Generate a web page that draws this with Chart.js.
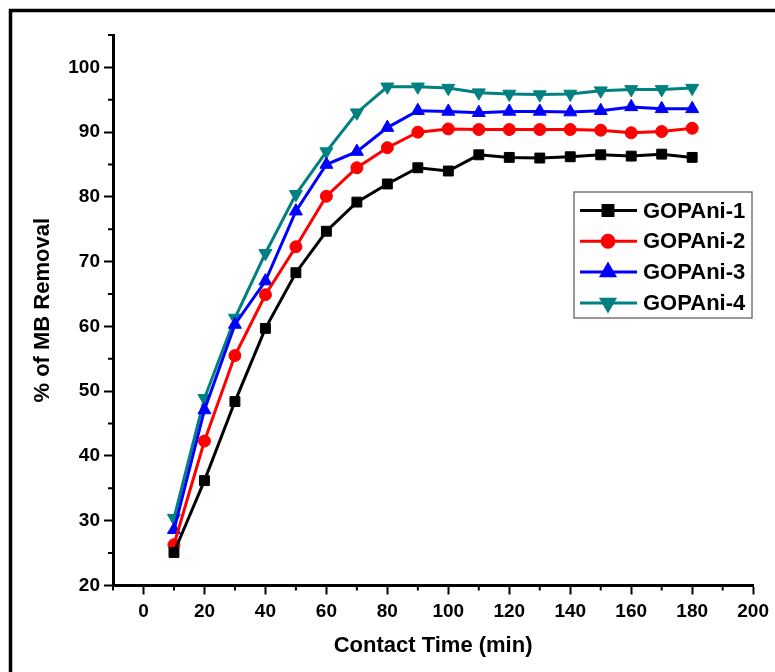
<!DOCTYPE html>
<html>
<head>
<meta charset="utf-8">
<script src="https://cdn.jsdelivr.net/npm/chart.js@4.4.1/dist/chart.umd.min.js"></script>
<style>
  html, body { margin: 0; padding: 0; background: #fff; }
  #wrap { width: 775px; height: 672px; position: relative; }
</style>
</head>
<body>
<div id="wrap"><canvas id="mbChart" width="775" height="672"></canvas></div>
<script>
// contact time (min)
var contactTime = [10, 20, 30, 40, 50, 60, 70, 80, 90, 100, 110, 120, 130, 140, 150, 160, 170, 180];

// % of MB removal
var gopani1 = [25.1, 36.2, 48.4, 59.7, 68.3, 74.7, 79.2, 82.0, 84.5, 84.0, 86.5, 86.1, 86.0, 86.2, 86.5, 86.3, 86.6, 86.1];
var gopani2 = [26.3, 42.3, 55.5, 64.9, 72.3, 80.1, 84.5, 87.6, 90.0, 90.5, 90.4, 90.4, 90.4, 90.4, 90.3, 89.9, 90.1, 90.6];
var gopani3 = [28.6, 47.1, 60.3, 67.0, 77.8, 85.0, 87.0, 90.7, 93.3, 93.2, 93.0, 93.2, 93.2, 93.1, 93.3, 93.9, 93.6, 93.6];
var gopani4 = [30.4, 48.9, 61.3, 71.3, 80.4, 87.0, 93.0, 97.0, 97.0, 96.8, 96.1, 95.9, 95.8, 95.9, 96.4, 96.6, 96.6, 96.8];

var seriesNames = ['GOPAni-1', 'GOPAni-2', 'GOPAni-3', 'GOPAni-4'];

// tick labels
var xTicks = [0, 20, 40, 60, 80, 100, 120, 140, 160, 180, 200];
var yTicks = [20, 30, 40, 50, 60, 70, 80, 90, 100];
var xMinorTicks = [-10, 10, 30, 50, 70, 90, 110, 130, 150, 170, 190];
var yMinorTicks = [25, 35, 45, 55, 65, 75, 85, 95, 105];

var FONT = '"Liberation Sans", Arial, sans-serif';

function toPoints(ys) {
  return contactTime.map(function(t, i) { return { x: t, y: ys[i] }; });
}

function makeSet(label, ys, color, style, radius, rot) {
  return {
    label: label,
    data: toPoints(ys),
    borderColor: color,
    backgroundColor: color,
    pointBackgroundColor: color,
    pointBorderColor: color,
    borderWidth: 3,
    pointStyle: style,
    pointRadius: radius,
    pointRotation: rot,
    pointBorderWidth: 1,
    tension: 0,
    fill: false
  };
}

// frame round the figure, minor ticks and the boxed legend
var decorPlugin = {
  id: 'decor',
  afterDraw: function(chart) {
    var ctx = chart.ctx;
    var xs = chart.scales.x, ys = chart.scales.y;
    var area = chart.chartArea;
    ctx.save();

    ctx.strokeStyle = '#000';
    ctx.lineWidth = 3.5;
    ctx.strokeRect(10.5, 10.5, 800, 700);

    ctx.lineWidth = 2;
    ctx.beginPath();
    xMinorTicks.forEach(function(v) {
      var px = xs.getPixelForValue(v);
      ctx.moveTo(px, area.bottom);
      ctx.lineTo(px, area.bottom + 5);
    });
    yMinorTicks.forEach(function(v) {
      var py = ys.getPixelForValue(v);
      ctx.moveTo(area.left, py);
      ctx.lineTo(area.left - 5, py);
    });
    ctx.stroke();

    // legend
    var bx = 574, by = 192, bw = 178, bh = 126;
    ctx.strokeStyle = '#777';
    ctx.lineWidth = 1.5;
    ctx.strokeRect(bx, by, bw, bh);
    ctx.font = 'bold 22px ' + FONT;
    ctx.textBaseline = 'middle';
    ctx.textAlign = 'left';
    chart.data.datasets.forEach(function(ds, i) {
      var cy = by + 18.5 + i * 30.8;
      ctx.strokeStyle = ds.borderColor;
      ctx.lineWidth = 3;
      ctx.beginPath();
      ctx.moveTo(bx + 6, cy);
      ctx.lineTo(bx + 63, cy);
      ctx.stroke();
      ctx.fillStyle = ds.backgroundColor;
      Chart.helpers.drawPoint(ctx, {
        pointStyle: ds.pointStyle,
        radius: ds.pointRadius,
        rotation: ds.pointRotation,
        borderWidth: 1
      }, bx + 34, cy);
      ctx.fillStyle = '#000';
      ctx.fillText(ds.label, bx + 69, cy + 1);
    });
    ctx.restore();
  }
};

var ctx = document.getElementById('mbChart').getContext('2d');
var mbChart = new Chart(ctx, {
  type: 'line',
  data: {
    datasets: [
      makeSet(seriesNames[0], gopani1, '#000000', 'rect', 7, 0),
      makeSet(seriesNames[1], gopani2, '#ff0000', 'circle', 6, 0),
      makeSet(seriesNames[2], gopani3, '#0000ff', 'triangle', 7.5, 0),
      makeSet(seriesNames[3], gopani4, '#008080', 'triangle', 7.5, 180)
    ]
  },
  options: {
    responsive: false,
    animation: false,
    devicePixelRatio: 1,
    layout: { padding: { top: 35, right: 17, left: 0, bottom: 0 } },
    plugins: { legend: { display: false }, tooltip: { enabled: false } },
    scales: {
      x: {
        type: 'linear',
        min: -10,
        max: 200,
        afterFit: function(s) { s.height = 86.5; },
        afterBuildTicks: function(s) { s.ticks = xTicks.map(function(v) { return { value: v }; }); },
        border: { display: true, color: '#000', width: 3 },
        grid: { drawOnChartArea: false, drawTicks: true, tickLength: 9, tickColor: '#000', tickWidth: 2 },
        ticks: { color: '#000', padding: 6, maxRotation: 0, autoSkip: false, font: { family: FONT, size: 19, weight: 'bold' } },
        title: { display: true, text: 'Contact Time (min)', color: '#000', padding: { bottom: 13 }, font: { family: FONT, size: 22, weight: 'bold' } }
      },
      y: {
        type: 'linear',
        min: 20,
        max: 105,
        afterFit: function(s) { s.width = 113; },
        afterBuildTicks: function(s) { s.ticks = yTicks.map(function(v) { return { value: v }; }); },
        border: { display: true, color: '#000', width: 3 },
        grid: { drawOnChartArea: false, drawTicks: true, tickLength: 9, tickColor: '#000', tickWidth: 2 },
        ticks: { color: '#000', padding: 4, autoSkip: false, font: { family: FONT, size: 19, weight: 'bold' } },
        title: { display: true, text: '% of MB Removal', color: '#000', padding: { top: 30 }, font: { family: FONT, size: 22, weight: 'bold' } }
      }
    }
  },
  plugins: [decorPlugin]
});
</script>
</body>
</html>
